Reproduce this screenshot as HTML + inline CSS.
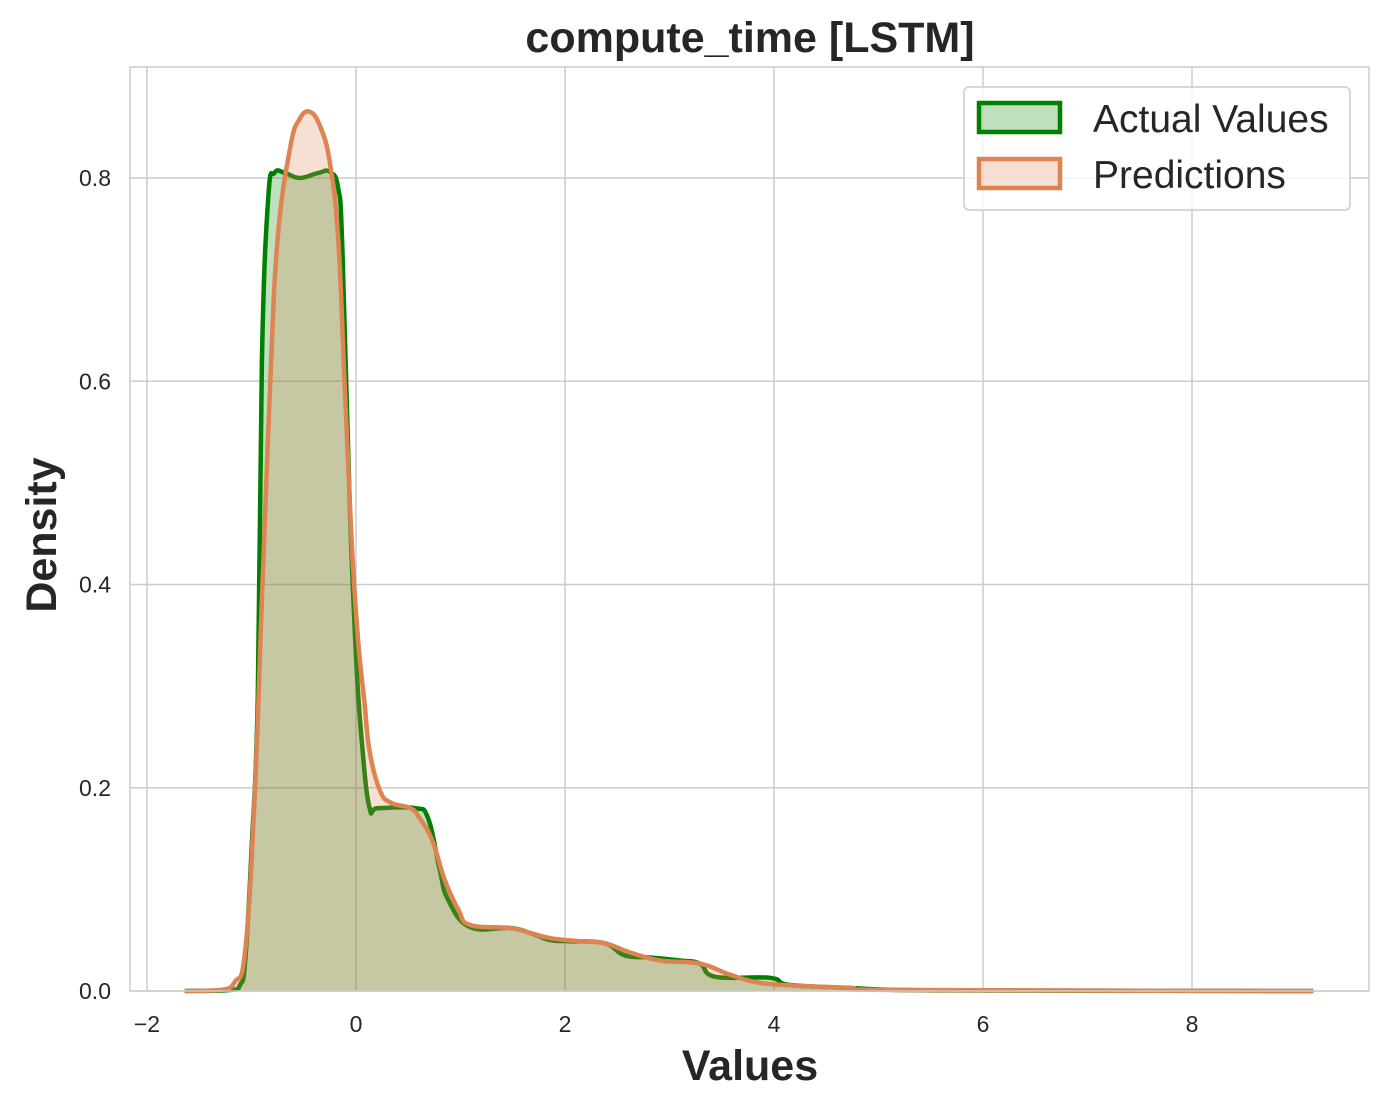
<!DOCTYPE html>
<html><head><meta charset="utf-8"><style>
body{margin:0;background:#fff;}
svg{display:block;font-family:"Liberation Sans",Arial,sans-serif;}
</style></head><body>
<svg id="chart" width="1389" height="1108" viewBox="0 0 1389 1108" xmlns="http://www.w3.org/2000/svg">
<rect x="0" y="0" width="1389" height="1108" fill="#fff"/>
<g id="grid"></g>
<g id="series"></g>
<rect x="130" y="67" width="1239" height="924" fill="none" stroke="#cccccc" stroke-width="1.5"/>
<g id="ticks"></g>
<text x="750" y="52" text-anchor="middle" font-size="43" font-weight="bold" fill="#262626">compute_time [LSTM]</text>
<text x="750" y="1080" text-anchor="middle" font-size="43" font-weight="bold" fill="#262626">Values</text>
<text transform="translate(56,535) rotate(-90)" text-anchor="middle" font-size="43" font-weight="bold" fill="#262626">Density</text>
<g>
<rect x="964" y="87" width="386" height="123" rx="5" fill="#fff" fill-opacity="0.8" stroke="#cccccc" stroke-width="1.5"/>
<rect x="979" y="103" width="81" height="29" fill="#008000" fill-opacity="0.25" stroke="#008000" stroke-width="4.5"/>
<text x="1093" y="132" font-size="39" fill="#262626">Actual Values</text>
<rect x="979" y="159" width="81" height="29" fill="#dd8452" fill-opacity="0.25" stroke="#dd8452" stroke-width="4.5"/>
<text x="1093" y="188" font-size="39" fill="#262626">Predictions</text>
</g>
</svg>
<script>
const xTicks = [-2, 0, 2, 4, 6, 8];
const xTickLabels = ["\u22122", "0", "2", "4", "6", "8"];
const yTicks = [0, 0.2, 0.4, 0.6, 0.8];
const yTickLabels = ["0.0", "0.2", "0.4", "0.6", "0.8"];
const actualX = [-1.64,-1.21,-1.11,-1.06,-1.00,-0.94,-0.90,-0.84,-0.78,-0.68,-0.54,-0.36,-0.25,-0.17,-0.13,-0.06,0,0.06,0.13,0.21,0.56,0.69,0.80,0.88,1.09,1.47,1.67,1.86,2.05,2.38,2.57,2.81,3.10,3.29,3.44,3.96,4.15,4.73,5.21,6.16,9.16];
const actualY = [0,0.001,0.006,0.030,0.138,0.29,0.62,0.78,0.805,0.805,0.80,0.805,0.806,0.79,0.73,0.48,0.33,0.24,0.18,0.18,0.18,0.17,0.12,0.09,0.063,0.062,0.057,0.05,0.049,0.047,0.035,0.033,0.03,0.027,0.014,0.013,0.006,0.003,0.001,0.0005,0];
const predX = [-1.64,-1.30,-1.16,-1.06,-0.97,-0.90,-0.82,-0.75,-0.63,-0.54,-0.44,-0.34,-0.25,-0.17,-0.11,-0.04,0.02,0.08,0.13,0.23,0.34,0.52,0.61,0.73,0.85,0.98,1.09,1.47,1.67,1.86,2.14,2.38,2.62,2.91,3.29,3.58,3.87,4.25,4.73,5.21,9.16];
const predY = [0,0.001,0.009,0.04,0.19,0.385,0.60,0.74,0.83,0.858,0.865,0.85,0.815,0.74,0.60,0.44,0.345,0.285,0.236,0.197,0.185,0.18,0.17,0.148,0.109,0.08,0.065,0.062,0.057,0.052,0.049,0.047,0.038,0.030,0.027,0.016,0.008,0.005,0.003,0.001,0];

const NS = "http://www.w3.org/2000/svg";
function sx(v){ return 356 + v * 104.5; }
function sy(v){ return 991 - v * 1016.25; }
const grid = document.getElementById('grid');
const ticks = document.getElementById('ticks');
const series = document.getElementById('series');

xTicks.forEach((t, i) => {
  const l = document.createElementNS(NS, 'line');
  
  
  l.setAttribute('x1', sx(t)); l.setAttribute('x2', sx(t));
  l.setAttribute('y1', 67); l.setAttribute('y2', 991);
  l.setAttribute('stroke', '#cccccc'); l.setAttribute('stroke-width', '1.5');
  grid.appendChild(l);
  const tx = document.createElementNS(NS, 'text');
  
  
  tx.setAttribute('x', sx(t)); tx.setAttribute('y', 1032);
  tx.setAttribute('text-anchor', 'middle'); tx.setAttribute('font-size', '23'); tx.setAttribute('fill', '#262626');
  tx.textContent = xTickLabels[i];
  ticks.appendChild(tx);
});
yTicks.forEach((t, i) => {
  const l = document.createElementNS(NS, 'line');
  
  
  l.setAttribute('x1', 130); l.setAttribute('x2', 1369);
  l.setAttribute('y1', sy(t)); l.setAttribute('y2', sy(t));
  l.setAttribute('stroke', '#cccccc'); l.setAttribute('stroke-width', '1.5');
  grid.appendChild(l);
  const tx = document.createElementNS(NS, 'text');
  
  
  tx.setAttribute('x', 111); tx.setAttribute('y', sy(t) + 8);
  tx.setAttribute('text-anchor', 'end'); tx.setAttribute('font-size', '23'); tx.setAttribute('fill', '#262626');
  tx.textContent = yTickLabels[i];
  ticks.appendChild(tx);
});

function pathFor(xs, ys){
  const pts = xs.map((x, i) => [sx(x), sy(ys[i])]);
  let d = 'M' + pts[0][0].toFixed(1) + ',' + pts[0][1].toFixed(1);
  for (let i = 0; i < pts.length - 1; i++) {
    const p0 = pts[Math.max(0, i-1)], p1 = pts[i], p2 = pts[i+1], p3 = pts[Math.min(pts.length-1, i+2)];
    const k = 0.2;
    let c1x = p1[0] + (p2[0]-p0[0])*k, c1y = p1[1] + (p2[1]-p0[1])*k;
    let c2x = p2[0] - (p3[0]-p1[0])*k, c2y = p2[1] - (p3[1]-p1[1])*k;
    c1y = Math.min(991, c1y); c2y = Math.min(991, c2y);
    d += ' C' + c1x.toFixed(1) + ',' + c1y.toFixed(1) + ' ' + c2x.toFixed(1) + ',' + c2y.toFixed(1) + ' ' + p2[0].toFixed(1) + ',' + p2[1].toFixed(1);
  }
  return d;
}
function drawSeries(xs, ys, color, name){
  const line = pathFor(xs, ys);
  const area = document.createElementNS(NS, 'path');
  
  
  area.setAttribute('d', line + ' L' + sx(xs[xs.length-1]) + ',' + sy(0) + ' L' + sx(xs[0]) + ',' + sy(0) + ' Z');
  area.setAttribute('fill', color); area.setAttribute('fill-opacity', '0.25');
  series.appendChild(area);
  const p = document.createElementNS(NS, 'path');
  
  
  p.setAttribute('d', line);
  p.setAttribute('fill', 'none'); p.setAttribute('stroke', color);
  p.setAttribute('stroke-width', '4.5'); p.setAttribute('stroke-linejoin', 'round');
  series.appendChild(p);
}
drawSeries(actualX, actualY, '#008000', 'actual-values');
drawSeries(predX, predY, '#dd8452', 'predictions');
</script>
</body></html>
